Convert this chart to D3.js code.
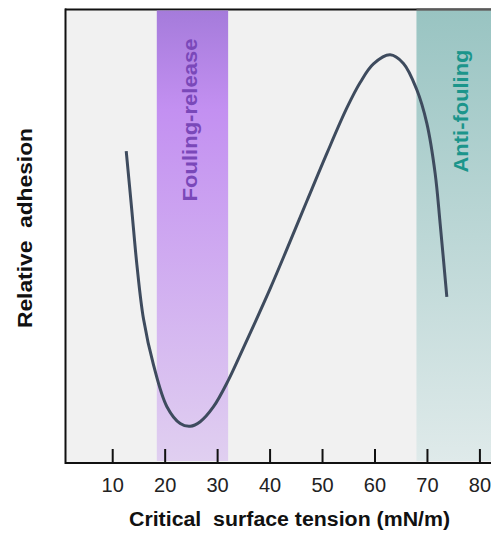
<!DOCTYPE html>
<html>
<head>
<meta charset="utf-8">
<script src="https://cdn.jsdelivr.net/npm/d3@7"></script>
<style>
  html, body { margin: 0; padding: 0; background: #ffffff; }
  svg { display: block; }
  text { font-family: "Liberation Sans", Arial, sans-serif; }
</style>
</head>
<body>
<div id="chart"></div>
<script>
// ---- data ----
const tensionValues = [12.67, 13.75, 14.71, 15.97, 17.87, 20.43, 22.96, 24.87, 26.77, 29.31, 32.17, 34.40, 36.93, 40.11, 43.30, 47.11, 50.92, 54.73, 57.27, 59.80, 62.98, 65.52, 68.07, 69.98, 71.56, 72.51, 73.79];
const adhesionValues = [68.7, 55.5, 43.6, 31.7, 21.6, 12.4, 8.7, 8.1, 9.1, 12.4, 18.3, 23.8, 30.2, 38.4, 47.1, 57.7, 68.2, 78.2, 83.8, 87.9, 89.9, 88.0, 82.2, 74.8, 63.8, 52.8, 36.6];
const xTicks = [10, 20, 30, 40, 50, 60, 70, 80];
const regionNames = ["Fouling-release", "Anti-fouling"];
const regionStart = [18.5, 68.0];
const regionEnd = [32.1, 82.4];
const xDomain = [1, 82.4];
const yDomain = [0, 100];
const xTitle = "Critical\u00a0 surface tension (mN/m)";
const yTitle = "Relative\u00a0 adhesion";

// ---- layout ----
const W = 491, H = 533;
const mLeft = 65, mRight = 492, mTop = 9, mBottom = 463;

const svg = d3.select("#chart").append("svg").attr("width", W).attr("height", H);
const defs = svg.append("defs");

const x = d3.scaleLinear().domain(xDomain).range([mLeft, mRight]);
const y = d3.scaleLinear().domain(yDomain).range([mBottom, mTop]);

// gradients
const g1 = defs.append("linearGradient").attr("id", "gradPurple").attr("x1", 0).attr("y1", 0).attr("x2", 0).attr("y2", 1);
g1.append("stop").attr("offset", "0%").attr("stop-color", "#a57bdb");
g1.append("stop").attr("offset", "22%").attr("stop-color", "#c390f1");
g1.append("stop").attr("offset", "100%").attr("stop-color", "#e0cff0");
const g2 = defs.append("linearGradient").attr("id", "gradTeal").attr("x1", 0).attr("y1", 0).attr("x2", 0).attr("y2", 1);
g2.append("stop").attr("offset", "0%").attr("stop-color", "#99c4c2");
g2.append("stop").attr("offset", "100%").attr("stop-color", "#dfeaea");

// plot background
svg.append("rect").attr("x", mLeft).attr("y", mTop).attr("width", mRight - mLeft).attr("height", mBottom - mTop).attr("fill", "#f1f1f1");

// top border (black)
svg.append("line").attr("x1", mLeft).attr("x2", mRight).attr("y1", mTop + 0.5).attr("y2", mTop + 0.5)
  .attr("stroke", "#111").attr("stroke-width", 2);

// regions
const fills = ["url(#gradPurple)", "url(#gradTeal)"];
svg.selectAll("rect.region").data(regionNames).enter().append("rect")
  .attr("class", "region")
  .attr("x", (d, i) => x(regionStart[i]))
  .attr("y", mTop + 1.5)
  .attr("width", (d, i) => x(regionEnd[i]) - x(regionStart[i]))
  .attr("height", mBottom - mTop - 3.5)
  .attr("fill", (d, i) => fills[i]);

// grey top line over anti-fouling region
svg.append("line").attr("x1", x(regionStart[1])).attr("x2", mRight).attr("y1", mTop + 0.5).attr("y2", mTop + 0.5)
  .attr("stroke", "#5a5a5a").attr("stroke-width", 2);

// region labels
const labelColors = ["#7a48b9", "#1b958b"];
const labelCx = [189, 460];
const labelCy = [120, 111];
const labelLen = [163, 123];
regionNames.forEach((name, i) => {
  svg.append("text")
    .attr("transform", `translate(${labelCx[i]},${labelCy[i]}) rotate(-90)`)
    .attr("text-anchor", "middle")
    .attr("dy", "0.36em")
    .attr("font-size", 21)
    .attr("font-weight", "bold")
    .attr("fill", labelColors[i])
    .attr("textLength", labelLen[i])
    .attr("lengthAdjust", "spacingAndGlyphs")
    .text(name);
});

// curve
const line = d3.line()
  .x((d, i) => x(tensionValues[i]))
  .y((d, i) => y(adhesionValues[i]))
  .curve(d3.curveCatmullRom.alpha(0.5));
svg.append("path").datum(adhesionValues)
  .attr("d", line)
  .attr("fill", "none")
  .attr("stroke", "#3e4b5e")
  .attr("stroke-width", 3)
  .attr("stroke-linecap", "butt");

// left border
svg.append("line").attr("x1", mLeft + 0.5).attr("x2", mLeft + 0.5).attr("y1", mTop - 0.5).attr("y2", mBottom + 1)
  .attr("stroke", "#111").attr("stroke-width", 2);

// x axis
const xAxis = d3.axisBottom(x).tickValues(xTicks).tickSize(-14).tickPadding(0).tickFormat(d3.format("d"));
const ax = svg.append("g").attr("transform", `translate(0,${mBottom})`).call(xAxis);
ax.select(".domain").remove();
ax.selectAll(".tick line").attr("stroke", "#111").attr("stroke-width", 2);
ax.selectAll(".tick text").attr("font-size", 20).attr("fill", "#222")
  .attr("font-family", "'Liberation Sans', Arial, sans-serif")
  .attr("y", 29).attr("dy", 0);
svg.append("line").attr("x1", mLeft).attr("x2", W).attr("y1", mBottom).attr("y2", mBottom)
  .attr("stroke", "#111").attr("stroke-width", 2);

// axis titles
svg.append("text")
  .attr("x", 289.5).attr("y", 526)
  .attr("text-anchor", "middle")
  .attr("font-size", 20)
  .attr("font-weight", "bold")
  .attr("fill", "#111")
  .attr("textLength", 321)
  .attr("lengthAdjust", "spacingAndGlyphs")
  .text(xTitle);

svg.append("text")
  .attr("transform", "translate(31.5,228) rotate(-90)")
  .attr("text-anchor", "middle")
  .attr("font-size", 21)
  .attr("font-weight", "bold")
  .attr("fill", "#111")
  .attr("textLength", 200)
  .attr("lengthAdjust", "spacingAndGlyphs")
  .text(yTitle);
</script>
</body>
</html>
